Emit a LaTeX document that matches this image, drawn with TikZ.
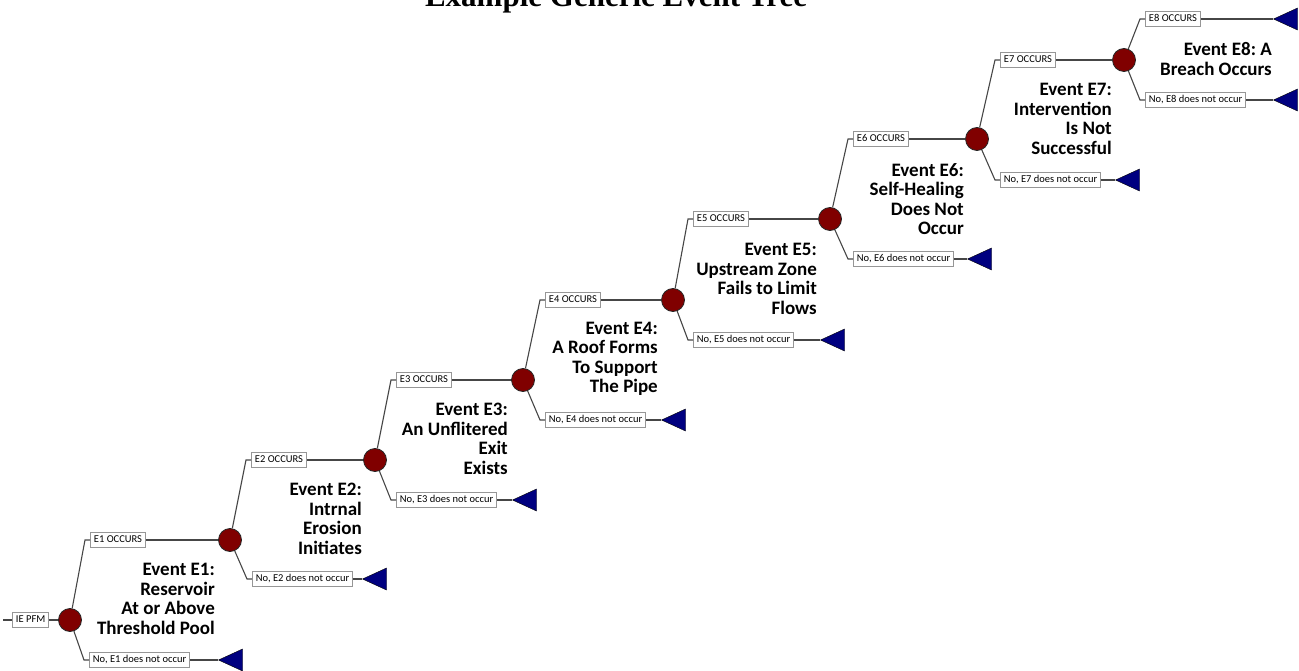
\documentclass[tikz,border=0pt]{standalone}
\usepackage{fontspec}
\setmainfont{Carlito}
\newfontfamily\titlefont{Liberation Serif}
\usepackage{xcolor}
\usepackage{tikz}
\usetikzlibrary{shapes.geometric}
\definecolor{nodered}{RGB}{128,0,0}
\definecolor{endblue}{RGB}{0,0,128}
\definecolor{linegray}{RGB}{70,70,70}
\definecolor{boxgray}{RGB}{150,150,150}
\tikzset{
  chance/.style={circle, draw=black!85, line width=0.8pt, fill=nodered, minimum size=23pt, inner sep=0pt},
  branchbox/.style={draw=boxgray, line width=0.9pt, fill=white, font=\fontsize{10.5}{12}\selectfont, inner xsep=3.5pt, inner ysep=3pt, text height=7.5pt, text depth=2pt, anchor=west},
  endtri/.style={isosceles triangle, shape border rotate=180, isosceles triangle stretches, minimum width=22pt, minimum height=24pt, inner sep=0pt, draw=black, fill=endblue, anchor=apex},
  evlabel/.style={align=right, anchor=east, inner sep=0pt, font=\fontsize{19}{19.5}\selectfont\bfseries\frenchspacing},
  link/.style={draw=linegray, line width=1.1pt}
}
\begin{document}
\begin{tikzpicture}[x=1pt, y=-1pt]
\useasboundingbox (0,0) rectangle (1299,671);
\clip (0,0) rectangle (1299,671);
\node at (616,7) (title) [anchor=base, font=\titlefont\bfseries\fontsize{31}{34}\selectfont] {Example Generic Event Tree};
% chance nodes
\node at (70,620) (c1) [chance] {};
\node at (230,540) (c2) [chance] {};
\node at (375,460) (c3) [chance] {};
\node at (523,380) (c4) [chance] {};
\node at (673,300) (c5) [chance] {};
\node at (830,219) (c6) [chance] {};
\node at (977,139) (c7) [chance] {};
\node at (1124,60) (c8) [chance] {};
% initiating event
\coordinate (in) at (3,620);
\node at (12,620) (ie) [branchbox] {IE PFM};
% occurs branches
\node at (90,540) (y1) [branchbox] {E1 OCCURS};
\node at (251,460) (y2) [branchbox] {E2 OCCURS};
\node at (396,380) (y3) [branchbox] {E3 OCCURS};
\node at (545,300) (y4) [branchbox] {E4 OCCURS};
\node at (693,219) (y5) [branchbox] {E5 OCCURS};
\node at (853,139) (y6) [branchbox] {E6 OCCURS};
\node at (1000,60) (y7) [branchbox] {E7 OCCURS};
\node at (1145,19) (y8) [branchbox] {E8 OCCURS};
% does not occur branches
\node at (89,660) (n1) [branchbox] {No, E1 does not occur};
\node at (252,579) (n2) [branchbox] {No, E2 does not occur};
\node at (396,500) (n3) [branchbox] {No, E3 does not occur};
\node at (545,420) (n4) [branchbox] {No, E4 does not occur};
\node at (693,340) (n5) [branchbox] {No, E5 does not occur};
\node at (853,259) (n6) [branchbox] {No, E6 does not occur};
\node at (1000,180) (n7) [branchbox] {No, E7 does not occur};
\node at (1145,100) (n8) [branchbox] {No, E8 does not occur};
% end points
\node at (218,660) (t1) [endtri] {};
\node at (362,579) (t2) [endtri] {};
\node at (512,500) (t3) [endtri] {};
\node at (661,420) (t4) [endtri] {};
\node at (820,340) (t5) [endtri] {};
\node at (967,259) (t6) [endtri] {};
\node at (1115,180) (t7) [endtri] {};
\node at (1273,19) (t8) [endtri] {};
\node at (1273,100) (t9) [endtri] {};
% event descriptions
\node at (215,599) (l1) [evlabel] {Event E1:\\Reservoir\\At or Above\\Threshold Pool};
\node at (362,519) (l2) [evlabel] {Event E2:\\Intrnal\\Erosion\\Initiates};
\node at (508,439) (l3) [evlabel] {Event E3:\\An Unflitered\\Exit\\Exists};
\node at (658,359) (l4) [evlabel] {Event E4:\\A Roof Forms\\To Support\\The Pipe};
\node at (817,279) (l5) [evlabel] {Event E5:\\Upstream Zone\\Fails to Limit\\Flows};
\node at (964,199) (l6) [evlabel] {Event E6:\\Self-Healing\\Does Not\\Occur};
\node at (1112,119) (l7) [evlabel] {Event E7:\\Intervention\\Is Not\\Successful};
\node at (1272,59) (l8) [evlabel] {Event E8: A\\Breach Occurs};
% connectors
\draw[link] (in) -- (ie);
\draw[link] (ie) -- (c1);
\draw[link] (c1) -- ([xshift=-5pt]y1.west) -- (y1.west);
\draw[link] (c1) -- ([xshift=-5pt]n1.west) -- (n1.west);
\draw[link] (c2) -- ([xshift=-5pt]y2.west) -- (y2.west);
\draw[link] (c2) -- ([xshift=-5pt]n2.west) -- (n2.west);
\draw[link] (c3) -- ([xshift=-5pt]y3.west) -- (y3.west);
\draw[link] (c3) -- ([xshift=-5pt]n3.west) -- (n3.west);
\draw[link] (c4) -- ([xshift=-5pt]y4.west) -- (y4.west);
\draw[link] (c4) -- ([xshift=-5pt]n4.west) -- (n4.west);
\draw[link] (c5) -- ([xshift=-5pt]y5.west) -- (y5.west);
\draw[link] (c5) -- ([xshift=-5pt]n5.west) -- (n5.west);
\draw[link] (c6) -- ([xshift=-5pt]y6.west) -- (y6.west);
\draw[link] (c6) -- ([xshift=-5pt]n6.west) -- (n6.west);
\draw[link] (c7) -- ([xshift=-5pt]y7.west) -- (y7.west);
\draw[link] (c7) -- ([xshift=-5pt]n7.west) -- (n7.west);
\draw[link] (c8) -- ([xshift=-5pt]y8.west) -- (y8.west);
\draw[link] (c8) -- ([xshift=-5pt]n8.west) -- (n8.west);
\draw[link] (y1) -- (c2);
\draw[link] (y2) -- (c3);
\draw[link] (y3) -- (c4);
\draw[link] (y4) -- (c5);
\draw[link] (y5) -- (c6);
\draw[link] (y6) -- (c7);
\draw[link] (y7) -- (c8);
\draw[link] (y8.east) -- (t8.apex);
\draw[link] (n1.east) -- (t1.apex);
\draw[link] (n2.east) -- (t2.apex);
\draw[link] (n3.east) -- (t3.apex);
\draw[link] (n4.east) -- (t4.apex);
\draw[link] (n5.east) -- (t5.apex);
\draw[link] (n6.east) -- (t6.apex);
\draw[link] (n7.east) -- (t7.apex);
\draw[link] (n8.east) -- (t9.apex);
\end{tikzpicture}
\end{document}
